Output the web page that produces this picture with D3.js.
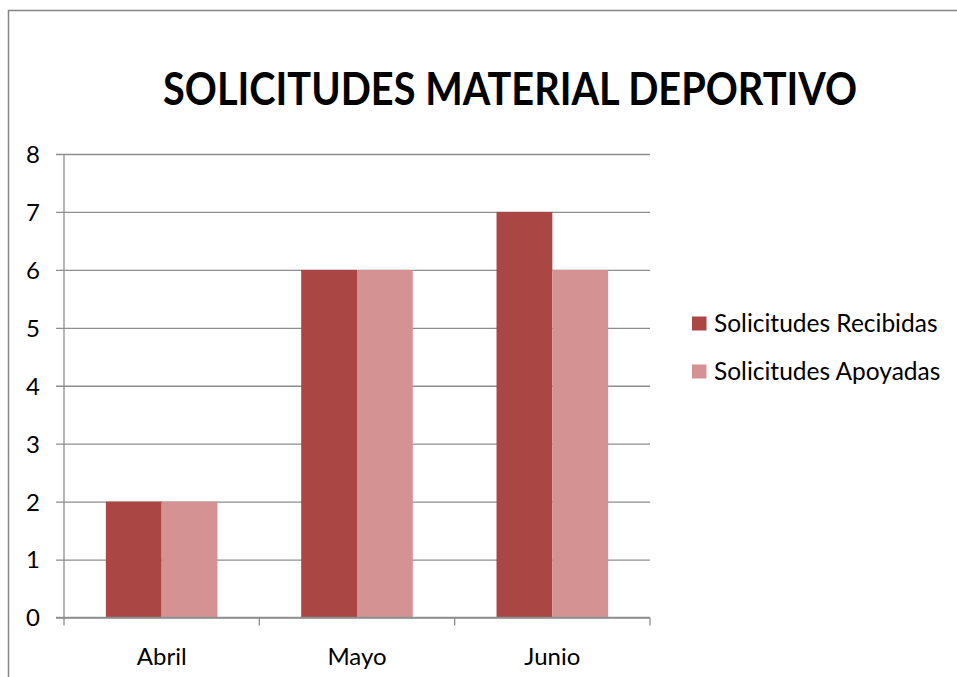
<!DOCTYPE html>
<html>
<head>
<meta charset="utf-8">
<script src="https://cdn.jsdelivr.net/npm/d3@7"></script>
<style>
  body { margin: 0; background: #fff; }
  text { font-family: Lato, "Open Sans", sans-serif; fill: #000; }
</style>
</head>
<body>
<script>
// data
var months = ['Abril', 'Mayo', 'Junio'];
var seriesNames = ['Solicitudes Recibidas', 'Solicitudes Apoyadas'];
var recibidas = [2, 6, 7];
var apoyadas = [2, 6, 6];
var yTicks = [0, 1, 2, 3, 4, 5, 6, 7, 8];
var colors = ['#AA4643', '#D49392'];

var W = 957, H = 677;
var plot = {left: 64, right: 650, top: 154, bottom: 617.5};

var svg = d3.select('body').append('svg')
  .attr('width', W).attr('height', H);

// outer chart border
svg.append('rect')
  .attr('x', 8.5).attr('y', 10.5)
  .attr('width', W + 20).attr('height', H + 20)
  .attr('fill', 'none').attr('stroke', '#868686').attr('stroke-width', 1.5);

// title
svg.append('text')
  .attr('x', 510).attr('y', 105)
  .attr('text-anchor', 'middle')
  .style('font-weight', 'bold').style('font-size', '46px')
  .attr('textLength', 694).attr('lengthAdjust', 'spacingAndGlyphs')
  .text('SOLICITUDES MATERIAL DEPORTIVO');

// scales
var xScale = d3.scaleBand().domain(months)
  .range([plot.left, plot.right]);
var yScale = d3.scaleLinear().domain([0, 8])
  .range([plot.bottom, plot.top]);
var inner = d3.scaleBand().domain(seriesNames)
  .range([0, xScale.bandwidth()]).paddingOuter(0.75).paddingInner(0);

// gridlines + y axis
var yAxis = d3.axisLeft(yScale).tickValues(yTicks)
  .tickSize(-(plot.right - plot.left)).tickPadding(24)
  .tickFormat(d3.format('d'));
var yG = svg.append('g').attr('transform', 'translate(' + plot.left + ',0)').call(yAxis);
yG.select('.domain').remove();
yG.selectAll('.tick line').attr('x1', -8).attr('stroke', '#8e8e8e').attr('stroke-width', 1.3);
yG.selectAll('.tick text').style('font-size', '24px').attr('dy', '0.35em');

// bars
var series = [recibidas, apoyadas];
series.forEach(function(vals, si){
  svg.selectAll('rect.s' + si).data(vals).enter()
    .append('rect').attr('class', 's' + si)
    .attr('x', function(d, i){ return xScale(months[i]) + inner(seriesNames[si]); })
    .attr('width', inner.bandwidth())
    .attr('y', function(d){ return yScale(d); })
    .attr('height', function(d){ return yScale(0) - yScale(d); })
    .attr('fill', colors[si]);
});

// y axis line
svg.append('line')
  .attr('x1', plot.left).attr('x2', plot.left)
  .attr('y1', plot.top).attr('y2', plot.bottom)
  .attr('stroke', '#8e8e8e').attr('stroke-width', 1.3);

// x axis
var xAxisG = svg.append('g');
xAxisG.append('line')
  .attr('x1', plot.left - 8).attr('x2', plot.right)
  .attr('y1', plot.bottom).attr('y2', plot.bottom)
  .attr('stroke', '#8e8e8e').attr('stroke-width', 1.3);
var edges = months.map(function(m){ return xScale(m); }).concat([plot.right]);
xAxisG.selectAll('line.tk').data(edges).enter()
  .append('line').attr('class', 'tk')
  .attr('x1', function(d){ return d; }).attr('x2', function(d){ return d; })
  .attr('y1', plot.bottom).attr('y2', plot.bottom + 8)
  .attr('stroke', '#8e8e8e').attr('stroke-width', 1.3);
xAxisG.selectAll('text').data(months).enter()
  .append('text')
  .attr('x', function(d){ return xScale(d) + xScale.bandwidth() / 2; })
  .attr('y', 665)
  .attr('text-anchor', 'middle').style('font-size', '24px')
  .text(function(d){ return d; });

// legend
var leg = svg.selectAll('g.leg').data(seriesNames).enter()
  .append('g').attr('class', 'leg')
  .attr('transform', function(d, i){ return 'translate(692,' + (316.5 + i * 48) + ')'; });
leg.append('rect').attr('width', 14.5).attr('height', 14)
  .attr('fill', function(d, i){ return colors[i]; });
leg.append('text').attr('x', 22).attr('y', 15.5)
  .style('font-size', '24.5px')
  .text(function(d){ return d; });
</script>
</body>
</html>
